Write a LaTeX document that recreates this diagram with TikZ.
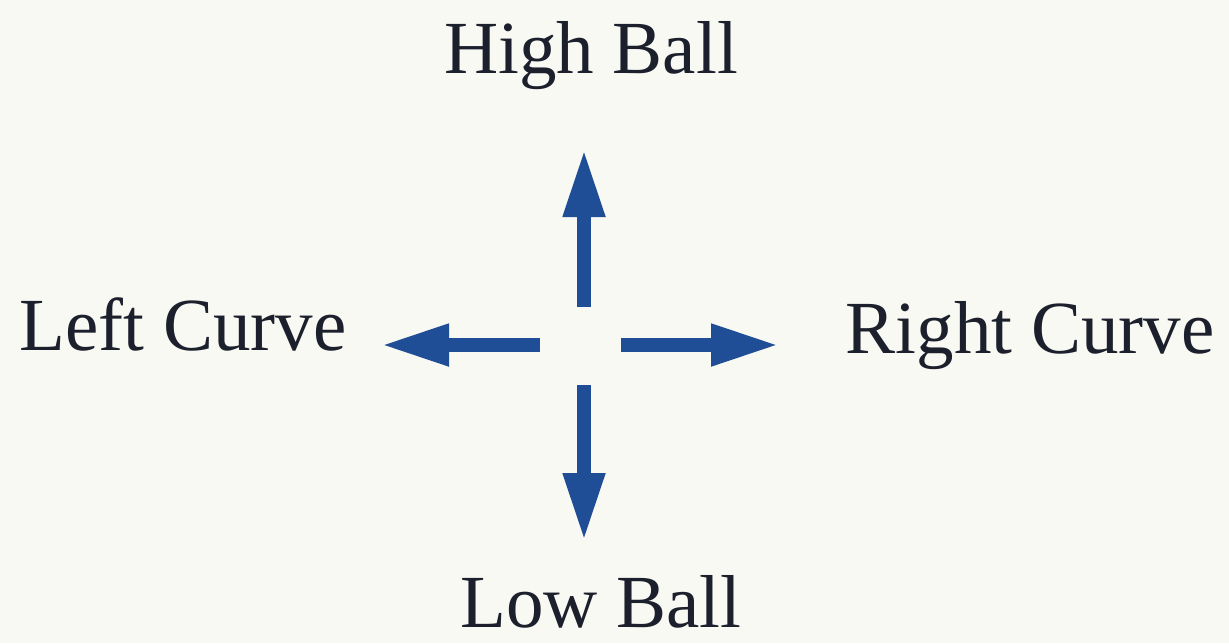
\documentclass[tikz,border=0pt]{standalone}
\usepackage{fontspec}
\setmainfont{Liberation Serif}
\usetikzlibrary{arrows.meta,positioning}
\definecolor{paper}{RGB}{249,249,243}
\definecolor{arrowblue}{RGB}{32,78,150}
\definecolor{inkdark}{RGB}{28,32,45}

\begin{document}
\begin{tikzpicture}[x=0.5pt,y=-0.5pt,
   label/.style={text=inkdark,inner sep=0pt,anchor=base,
     font=\fontsize{37.5}{40}\selectfont},
   dir/.style={arrowblue,line width=6.8pt,
     -{Triangle[length=34pt,width=19.5pt]}}]
  \fill[paper] (0,0) rectangle (1229,643);
  \useasboundingbox (0,0) rectangle (1229,643);
  % the four labels
  \node[label] (high)  at (591,73)  {High Ball};
  \node[label] (low)   at (601,627) {Low Ball};
  \node[label] (left)  at (183,350) {Left Curve};
  \node[label] (right) at (1030,353) {Right Curve};
  % arrow ends round the centre
  \coordinate (upfrom)    at (584,307);
  \coordinate (upto)      at (584,149);
  \coordinate (downfrom)  at (584,385);
  \coordinate (downto)    at (584,541);
  \coordinate (leftfrom)  at (540,345);
  \coordinate (leftto)    at (381,345);
  \coordinate (rightfrom) at (621,345);
  \coordinate (rightto)   at (779,345);
  \draw[dir] (upfrom) -- (upto);
  \draw[dir] (downfrom) -- (downto);
  \draw[dir] (leftfrom) -- (leftto);
  \draw[dir] (rightfrom) -- (rightto);
\end{tikzpicture}
\end{document}
